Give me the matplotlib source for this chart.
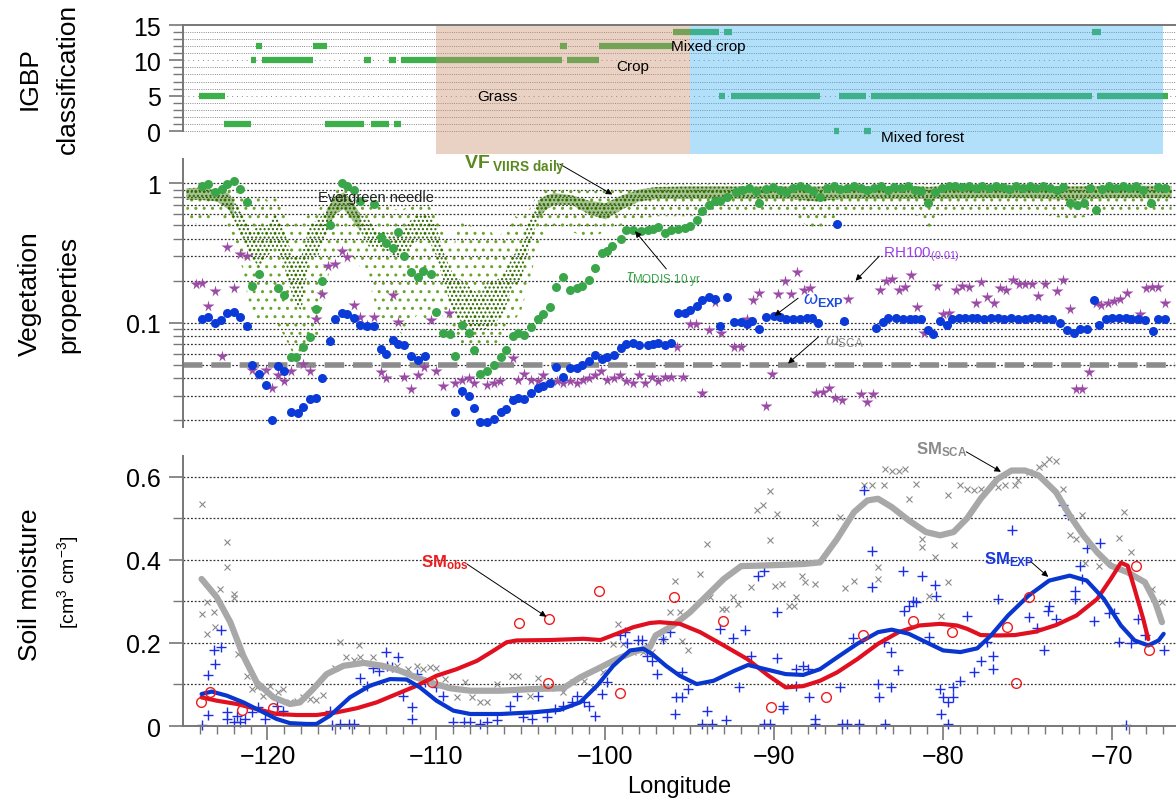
import matplotlib
matplotlib.use("Agg")
import matplotlib.pyplot as plt
from matplotlib.ticker import FixedLocator, NullFormatter

plt.rcParams['font.family'] = ['Liberation Sans', 'DejaVu Sans']
plt.rcParams['mathtext.fontset'] = 'custom'
plt.rcParams['mathtext.rm'] = 'Liberation Sans'
plt.rcParams['mathtext.it'] = 'Liberation Sans:italic'
plt.rcParams['mathtext.bf'] = 'Liberation Sans:bold'
plt.rcParams['hatch.linewidth'] = 1.0

# ---------------- IGBP classes along the transect ----------------
igbp_class = [14, 14, 14, 12, 12, 12, 12, 10, 10, 10, 10, 10, 10,
              5, 5, 5, 5, 5, 5, 1, 1, 1, 1, 0, 0]
igbp_start = [-96.0, -93.0, -71.2, -120.7, -117.3, -102.7, -100.4, -121.0, -120.3, -114.3,
              -112.8, -112.1, -102.3, -124.05, -93.3, -92.6, -86.2, -84.3, -70.9, -122.6,
              -116.6, -113.9, -112.5, -86.5, -84.7]
igbp_end = [-93.3, -92.5, -70.7, -120.3, -116.5, -102.3, -96.0, -120.7, -117.3, -113.9,
            -112.4, -102.6, -100.4, -122.5, -92.9, -87.3, -84.6, -71.2, -66.7, -121.0,
            -114.3, -112.8, -112.1, -86.2, -84.3]

# ---------------- VIIRS daily VF point cloud (envelopes) ----------------
vf_lon = [-124.8, -124.0, -123.0, -122.3, -122.0, -121.5, -121.0, -120.5, -120.0, -119.5,
          -119.0, -118.5, -118.0, -117.5, -117.0, -116.5, -116.0, -115.5, -115.0, -114.5,
          -114.0, -113.5, -113.0, -112.5, -112.0, -111.5, -111.0, -110.5, -110.0, -109.5,
          -109.0, -108.5, -108.0, -107.5, -107.0, -106.5, -106.0, -105.5, -105.0, -104.5,
          -104.0, -103.5, -103.0, -102.0, -101.0, -100.0, -99.0, -98.0, -97.0, -95.0,
          -92.0, -89.0, -87.6, -86.0, -83.0, -81.2, -80.9, -80.5, -78.0, -75.0,
          -72.5, -70.0, -67.0, -66.5]
vf_min = [0.55, 0.50, 0.60, 0.45, 0.35, 0.25, 0.12, 0.10, 0.10, 0.10,
          0.08, 0.06, 0.06, 0.08, 0.08, 0.20, 0.30, 0.35, 0.30, 0.25,
          0.20, 0.12, 0.10, 0.10, 0.08, 0.10, 0.12, 0.10, 0.15, 0.10,
          0.08, 0.07, 0.065, 0.065, 0.07, 0.07, 0.08, 0.10, 0.12, 0.20,
          0.35, 0.45, 0.50, 0.45, 0.40, 0.45, 0.50, 0.55, 0.58, 0.58,
          0.60, 0.60, 0.45, 0.60, 0.60, 0.58, 0.40, 0.58, 0.62, 0.62,
          0.55, 0.62, 0.62, 0.62]
vf_max = [0.95, 0.97, 0.95, 0.92, 0.90, 0.80, 0.70, 0.90, 0.75, 0.90,
          0.70, 0.50, 0.55, 0.60, 0.65, 0.75, 0.90, 0.95, 0.85, 0.80,
          0.75, 0.70, 0.70, 0.65, 0.65, 0.70, 0.70, 0.70, 0.60, 0.45,
          0.35, 0.60, 0.50, 0.45, 0.50, 0.40, 0.45, 0.60, 0.55, 0.65,
          0.85, 0.90, 0.92, 0.90, 0.88, 0.88, 0.90, 0.95, 0.98, 0.98,
          0.98, 0.98, 0.98, 0.98, 0.98, 0.98, 0.98, 0.98, 0.98, 0.98,
          0.98, 0.98, 0.98, 0.98]
vf_core_lo = [0.76, 0.76, 0.74, 0.65, 0.55, 0.40, 0.30, 0.25, 0.30, 0.35,
              0.25, 0.15, 0.12, 0.30, 0.30, 0.45, 0.60, 0.65, 0.55, 0.45,
              0.35, 0.35, 0.33, 0.30, 0.30, 0.35, 0.40, 0.40, 0.30, 0.18,
              0.12, 0.10, 0.09, 0.09, 0.09, 0.10, 0.12, 0.18, 0.20, 0.35,
              0.55, 0.65, 0.70, 0.70, 0.60, 0.55, 0.65, 0.74, 0.77, 0.77,
              0.77, 0.77, 0.74, 0.77, 0.77, 0.77, 0.72, 0.77, 0.78, 0.78,
              0.76, 0.78, 0.78, 0.78]
vf_core_hi = [0.92, 0.93, 0.90, 0.85, 0.75, 0.60, 0.45, 0.50, 0.50, 0.60,
              0.45, 0.30, 0.30, 0.50, 0.55, 0.65, 0.80, 0.86, 0.75, 0.60,
              0.55, 0.45, 0.45, 0.42, 0.45, 0.55, 0.60, 0.60, 0.50, 0.30,
              0.22, 0.20, 0.18, 0.16, 0.20, 0.20, 0.22, 0.30, 0.35, 0.55,
              0.75, 0.82, 0.85, 0.82, 0.75, 0.72, 0.82, 0.90, 0.94, 0.95,
              0.95, 0.95, 0.95, 0.95, 0.95, 0.95, 0.94, 0.95, 0.96, 0.96,
              0.95, 0.96, 0.96, 0.96]
# where the daily retrievals pile up into a near-solid band
vf_dense = [True, True, True, True, True, False, False, False, False, False,
            False, False, False, False, False, True, True, True, True, True,
            False, False, False, False, False, False, False, False, False, False,
            False, False, False, False, False, False, False, False, False, False,
            True, True, True, True, True, True, True, True, True, True,
            True, True, True, True, True, True, True, True, True, True,
            True, True, True, True]

# ---------------- MODIS 10-yr tau ----------------
tau_lon = [-123.9, -123.5, -123.1, -122.7, -122.4, -122.0, -121.6, -121.2, -120.9, -120.5,
           -119.4, -119.0, -118.6, -118.3, -117.9, -117.5, -117.1, -116.8, -116.3, -115.6,
           -115.3, -114.9, -114.5, -113.7, -113.3, -113.0, -112.6, -112.3, -111.9, -111.5,
           -111.1, -110.8, -110.3, -110.0, -109.6, -109.2, -108.9, -108.5, -108.1, -107.8,
           -107.4, -107.0, -106.6, -106.2, -105.9, -105.5, -105.2, -104.8, -104.4, -104.0,
           -103.7, -103.3, -102.9, -102.5, -102.1, -101.7, -101.4, -101.0, -100.6, -100.2,
           -99.9, -99.6, -99.1, -98.8, -98.4, -97.9, -97.5, -97.2, -96.9, -96.5,
           -96.1, -95.7, -95.3, -95.0, -94.6, -94.3, -93.9, -93.5, -93.2, -92.8,
           -92.3, -91.9, -91.5, -91.1, -90.9, -90.5, -90.1, -89.7, -89.3, -88.9,
           -88.5, -88.1, -87.7, -87.3, -86.9, -86.5, -86.1, -85.7, -85.3, -84.9,
           -84.5, -84.1, -83.7, -83.3, -82.9, -82.5, -82.1, -81.7, -81.3, -80.9,
           -80.5, -80.1, -79.7, -79.3, -78.9, -78.5, -78.1, -77.7, -77.3, -76.9,
           -76.5, -76.1, -75.7, -75.3, -74.9, -74.5, -74.1, -73.7, -73.3, -72.9,
           -72.5, -72.1, -71.7, -71.3, -71.0, -70.6, -70.2, -69.8, -69.4, -69.0,
           -68.6, -68.2, -67.7, -67.3, -66.9]
tau_val = [0.96, 0.99, 0.86, 0.91, 0.98, 1.03, 0.91, 0.73, 0.183, 0.225,
           0.178, 0.159, 0.057, 0.057, 0.067, 0.079, 0.125, 0.199, 0.50, 1.0,
           0.96, 0.89, 0.75, 0.71, 0.41, 0.37, 0.345, 0.45, 0.30, 0.23,
           0.213, 0.235, 0.223, 0.12, 0.085, 0.083, 0.058, 0.096, 0.085, 0.064,
           0.043, 0.045, 0.050, 0.057, 0.064, 0.080, 0.084, 0.082, 0.093, 0.106,
           0.115, 0.129, 0.179, 0.211, 0.173, 0.178, 0.183, 0.204, 0.245, 0.316,
           0.327, 0.353, 0.40, 0.46, 0.465, 0.454, 0.465, 0.472, 0.485, 0.44,
           0.465, 0.472, 0.48, 0.49, 0.547, 0.63, 0.70, 0.75, 0.75, 0.80,
           0.86, 0.90, 0.93, 0.88, 0.72, 0.91, 0.94, 0.90, 0.86, 0.93,
           0.95, 0.92, 0.88, 0.80, 0.93, 0.95, 0.91, 0.93, 0.96, 0.92,
           0.89, 0.93, 0.95, 0.90, 0.94, 0.92, 0.95, 0.90, 0.88, 0.72,
           0.86, 0.93, 0.95, 0.96, 0.94, 0.96, 0.93, 0.95, 0.92, 0.96,
           0.94, 0.91, 0.95, 0.93, 0.96, 0.92, 0.95, 0.93, 0.90, 0.94,
           0.72, 0.70, 0.72, 0.93, 0.64, 0.91, 0.95, 0.93, 0.96, 0.92,
           0.95, 0.90, 0.72, 0.94, 0.92]

# ---------------- omega EXP ----------------
wexp_lon = [-123.86, -123.5, -123.1, -122.75, -122.4, -122.0, -121.6, -121.2, -120.9, -120.5,
            -120.1, -119.75, -119.4, -119.0, -118.6, -118.2, -117.9, -117.5, -117.1, -116.8,
            -116.3, -116.0, -115.6, -115.3, -114.9, -114.5, -114.1, -113.7, -113.3, -113.0,
            -112.6, -112.3, -111.9, -111.5, -111.1, -110.7, -108.9, -108.5, -108.1, -107.8,
            -107.4, -107.0, -106.6, -106.2, -105.9, -105.5, -105.2, -104.8, -104.4, -104.0,
            -103.7, -103.3, -102.9, -102.5, -102.1, -101.7, -101.4, -101.0, -100.6, -100.2,
            -99.9, -99.5, -99.1, -98.8, -98.4, -98.0, -97.5, -97.2, -96.9, -96.5,
            -96.1, -95.7, -95.3, -95.0, -94.6, -94.3, -93.9, -93.5, -93.2, -92.8,
            -92.4, -92.0, -91.6, -91.3, -90.9, -90.5, -90.0, -89.7, -89.3, -88.9,
            -88.5, -88.1, -87.8, -87.4, -86.3, -85.9, -84.0, -83.6, -83.3, -82.8,
            -82.4, -82.0, -81.7, -81.3, -80.9, -80.6, -80.2, -79.8, -79.5, -79.1,
            -78.7, -78.3, -78.0, -77.6, -77.2, -76.8, -76.4, -76.0, -75.6, -75.2,
            -74.8, -74.4, -74.0, -73.6, -73.1, -72.7, -72.3, -71.9, -71.5, -71.1,
            -70.8, -70.4, -70.0, -69.6, -69.2, -68.9, -68.5, -68.1, -67.6, -67.3,
            -66.9]
wexp_val = [0.107, 0.110, 0.100, 0.104, 0.117, 0.119, 0.110, 0.095, 0.050, 0.043,
            0.036, 0.020, 0.049, 0.045, 0.023, 0.0226, 0.025, 0.0283, 0.0288, 0.040,
            0.074, 0.106, 0.117, 0.115, 0.109, 0.096, 0.095, 0.094, 0.065, 0.060,
            0.075, 0.070, 0.069, 0.058, 0.054, 0.058, 0.023, 0.0325, 0.030, 0.0245,
            0.0193, 0.0196, 0.0205, 0.0228, 0.0242, 0.028, 0.029, 0.0285, 0.0313, 0.034,
            0.0355, 0.0373, 0.0485, 0.041, 0.047, 0.047, 0.050, 0.053, 0.0588, 0.055,
            0.057, 0.059, 0.066, 0.070, 0.071, 0.069, 0.069, 0.070, 0.072, 0.069,
            0.072, 0.117, 0.118, 0.123, 0.132, 0.145, 0.152, 0.147, 0.094, 0.152,
            0.102, 0.102, 0.098, 0.103, 0.090, 0.110, 0.111, 0.110, 0.106, 0.107,
            0.107, 0.108, 0.108, 0.099, 0.51, 0.103, 0.092, 0.102, 0.108, 0.108,
            0.107, 0.107, 0.107, 0.107, 0.088, 0.083, 0.103, 0.096, 0.106, 0.108,
            0.108, 0.108, 0.108, 0.107, 0.108, 0.108, 0.107, 0.108, 0.106, 0.107,
            0.108, 0.108, 0.107, 0.107, 0.099, 0.088, 0.084, 0.090, 0.090, 0.145,
            0.097, 0.107, 0.108, 0.108, 0.108, 0.107, 0.106, 0.105, 0.087, 0.106,
            0.106]

# ---------------- RH100 (x0.01) ----------------
rh_lon = [-124.23, -123.9, -123.5, -123.1, -122.7, -122.4, -122.0, -121.6, -121.2, -120.9,
          -120.5, -120.1, -119.75, -119.4, -119.0, -118.6, -117.9, -117.5, -117.13, -116.8,
          -116.4, -116.0, -115.6, -115.3, -114.9, -114.5, -114.13, -113.7, -113.3, -113.0,
          -112.6, -112.3, -111.9, -111.5, -111.1, -110.74, -110.35, -110.0, -109.6, -109.24,
          -108.9, -108.5, -108.1, -107.76, -107.0, -106.6, -106.24, -105.5, -105.2, -104.8,
          -104.4, -104.0, -103.7, -103.3, -102.85, -102.5, -102.1, -101.7, -101.35, -100.96,
          -100.6, -100.27, -99.89, -99.5, -99.15, -98.77, -98.36, -98.02, -97.64, -97.24,
          -96.9, -96.5, -96.1, -95.78, -95.4, -94.99, -94.65, -94.27, -93.86, -93.5,
          -93.14, -92.4, -92.0, -91.6, -91.28, -90.9, -90.5, -90.15, -89.77, -89.36,
          -89.0, -88.65, -88.24, -87.9, -87.57, -87.12, -86.78, -86.4, -86.0, -85.65,
          -84.87, -84.53, -84.15, -83.74, -83.4, -83.02, -82.66, -82.28, -81.9, -81.54,
          -81.15, -80.37, -80.03, -79.65, -79.24, -78.9, -78.5, -78.1, -77.78, -77.4,
          -77.0, -76.66, -76.27, -75.9, -75.53, -75.15, -74.74, -74.41, -74.0, -73.28,
          -72.9, -72.5, -72.16, -71.78, -71.37, -71.0, -70.65, -70.29, -69.91, -69.53,
          -69.12, -68.78, -68.38, -68.0, -67.66, -67.28, -66.9]
rh_val = [0.191, 0.194, 0.132, 0.169, 0.058, 0.349, 0.178, 0.313, 0.300, 0.046,
          0.042, 0.046, 0.034, 0.042, 0.038, 0.045, 0.051, 0.045, 0.106, 0.162,
          0.255, 0.262, 0.327, 0.296, 0.134, 0.110, 0.096, 0.110, 0.044, 0.040,
          0.157, 0.102, 0.041, 0.0336, 0.042, 0.0485, 0.104, 0.045, 0.0355, 0.118,
          0.037, 0.039, 0.040, 0.037, 0.036, 0.037, 0.038, 0.0556, 0.039, 0.043,
          0.039, 0.038, 0.042, 0.037, 0.038, 0.037, 0.038, 0.037, 0.039, 0.040,
          0.042, 0.045, 0.039, 0.040, 0.042, 0.038, 0.037, 0.042, 0.037, 0.041,
          0.038, 0.041, 0.041, 0.067, 0.041, 0.098, 0.098, 0.0316, 0.088, 0.141,
          0.085, 0.067, 0.067, 0.107, 0.145, 0.164, 0.0253, 0.043, 0.160, 0.200,
          0.160, 0.232, 0.173, 0.176, 0.0316, 0.032, 0.034, 0.029, 0.028, 0.148,
          0.031, 0.027, 0.031, 0.171, 0.200, 0.205, 0.171, 0.180, 0.219, 0.130,
          0.084, 0.184, 0.116, 0.118, 0.173, 0.183, 0.180, 0.139, 0.196, 0.153,
          0.138, 0.178, 0.171, 0.204, 0.188, 0.188, 0.191, 0.155, 0.188, 0.169,
          0.204, 0.125, 0.0335, 0.0335, 0.044, 0.138, 0.134, 0.138, 0.143, 0.149,
          0.164, 0.106, 0.116, 0.176, 0.179, 0.179, 0.138]

wsca_lon = [-125.0, -66.3]
wsca_val = [0.05, 0.05]

# ---------------- Soil moisture curves ----------------
sca_lon = [-123.9, -123.0, -122.2, -121.43, -120.64, -119.65, -118.67, -118.08, -117.3, -116.5,
           -115.5, -114.3, -113.2, -112.16, -111.2, -110.2, -109.2, -108.0, -106.2, -104.3,
           -102.5, -101.5, -100.5, -99.34, -98.35, -97.37, -97.03, -96.0, -95.0, -94.0,
           -93.0, -91.97, -90.96, -89.54, -88.3, -87.3, -86.3, -85.29, -84.5, -83.87,
           -83.06, -82.05, -81.04, -80.2, -79.4, -78.6, -77.8, -76.79, -75.97, -75.17,
           -74.36, -73.34, -72.53, -71.72, -70.9, -70.1, -69.1, -68.08, -67.47, -67.07]
sca_val = [0.354, 0.31, 0.25, 0.169, 0.105, 0.069, 0.053, 0.057, 0.089, 0.125,
           0.145, 0.152, 0.145, 0.133, 0.117, 0.103, 0.091, 0.085, 0.085, 0.089,
           0.091, 0.117, 0.137, 0.161, 0.178, 0.19, 0.218, 0.242, 0.274, 0.314,
           0.354, 0.385, 0.386, 0.388, 0.39, 0.394, 0.45, 0.515, 0.543, 0.547,
           0.527, 0.495, 0.467, 0.459, 0.467, 0.5, 0.547, 0.595, 0.615, 0.615,
           0.603, 0.563, 0.507, 0.459, 0.418, 0.386, 0.37, 0.346, 0.298, 0.25]

obs_lon = [-123.9, -123.0, -121.8, -120.64, -119.46, -118.27, -117.1, -115.9, -114.7, -113.54,
           -112.36, -111.17, -110.0, -108.8, -107.6, -106.6, -105.85, -105.26, -103.3, -101.3,
           -100.3, -99.34, -98.35, -97.37, -96.8, -95.6, -94.4, -93.0, -91.6, -90.35,
           -89.34, -88.3, -87.3, -86.3, -85.1, -83.87, -82.65, -81.44, -80.2, -79.2,
           -78.6, -77.8, -76.79, -75.77, -74.56, -73.34, -72.13, -70.9, -70.1, -69.5,
           -69.1, -68.69, -68.18, -67.88]
obs_val = [0.069, 0.061, 0.053, 0.041, 0.029, 0.0265, 0.0265, 0.033, 0.043, 0.057,
           0.077, 0.097, 0.121, 0.137, 0.157, 0.182, 0.2016, 0.206, 0.207, 0.21,
           0.207, 0.222, 0.238, 0.248, 0.25, 0.246, 0.226, 0.194, 0.161, 0.121,
           0.093, 0.096, 0.109, 0.129, 0.161, 0.198, 0.226, 0.242, 0.246, 0.242,
           0.234, 0.219, 0.218, 0.219, 0.227, 0.243, 0.266, 0.306, 0.354, 0.393,
           0.386, 0.33, 0.258, 0.209]

exp_lon = [-123.9, -123.3, -122.4, -121.43, -120.44, -119.46, -118.67, -117.7, -117.1, -116.3,
           -115.12, -113.94, -112.75, -111.77, -110.98, -110.0, -109.0, -108.0, -106.2, -104.27,
           -102.7, -101.5, -100.5, -99.54, -98.55, -97.76, -97.23, -96.42, -95.6, -94.6,
           -93.6, -92.37, -91.56, -90.55, -89.34, -88.3, -87.3, -86.3, -85.1, -83.87,
           -83.06, -82.05, -81.04, -80.02, -79.0, -78.0, -77.19, -76.18, -74.96, -73.75,
           -72.53, -71.52, -70.51, -69.5, -68.69, -67.88, -67.27, -66.97]
exp_val = [0.077, 0.083, 0.073, 0.057, 0.037, 0.017, 0.007, 0.005, 0.005, 0.025,
           0.069, 0.097, 0.113, 0.112, 0.093, 0.061, 0.037, 0.029, 0.029, 0.033,
           0.039, 0.057, 0.097, 0.145, 0.182, 0.186, 0.173, 0.145, 0.121, 0.101,
           0.109, 0.133, 0.147, 0.137, 0.125, 0.123, 0.137, 0.165, 0.198, 0.226,
           0.232, 0.222, 0.202, 0.182, 0.178, 0.187, 0.218, 0.266, 0.314, 0.35,
           0.362, 0.35, 0.306, 0.242, 0.206, 0.194, 0.206, 0.222]

# in-situ observations (open circles)
obs_pt_lon = [-123.95, -123.4, -121.53, -119.7, -110.28, -105.1, -103.34, -103.4, -100.36, -99.15,
              -95.96, -93.04, -90.2, -86.95, -84.78, -81.8, -79.5, -76.24, -75.71, -74.96,
              -68.63, -67.82]
obs_pt_val = [0.059, 0.081, 0.039, 0.043, 0.105, 0.248, 0.258, 0.103, 0.325, 0.08,
              0.31, 0.254, 0.047, 0.071, 0.218, 0.254, 0.226, 0.239, 0.104, 0.31,
              0.385, 0.183]

# SCA retrievals (x)
scax_lon = [-123.9, -123.9, -123.56, -123.56, -123.17, -123.1, -122.8, -122.4, -122.4, -122.0,
            -122.0, -121.73, -121.23, -120.94, -120.6, -120.25, -119.85, -119.36, -119.06, -118.67,
            -118.27, -117.88, -117.48, -117.1, -116.74, -116.0, -115.7, -115.35, -114.88, -114.57,
            -114.53, -113.78, -113.34, -113.05, -112.36, -111.67, -111.17, -110.78, -110.38, -110.0,
            -109.5, -108.8, -108.3, -107.92, -107.43, -107.03, -106.44, -105.55, -105.16, -104.47,
            -103.98, -103.68, -103.28, -102.5, -101.9, -101.3, -100.72, -100.13, -99.54, -99.24,
            -98.94, -98.35, -97.76, -97.23, -96.62, -96.2, -95.9, -95.6, -95.5, -95.1,
            -94.4, -94.0, -93.79, -93.08, -92.88, -92.47, -92.17, -91.36, -91.06, -90.65,
            -90.25, -90.25, -89.84, -89.94, -89.54, -89.13, -88.83, -88.7, -88.36, -88.2,
            -87.6, -87.6, -86.1, -85.8, -85.29, -84.68, -84.2, -83.87, -83.87, -83.5,
            -83.47, -83.06, -82.66, -82.25, -82.05, -81.64, -81.28, -81.28, -80.83, -80.53,
            -80.13, -79.76, -79.72, -79.38, -79.0, -78.6, -78.2, -77.8, -76.79, -76.38,
            -75.77, -75.57, -74.96, -74.36, -74.05, -73.75, -73.34, -72.94, -72.53, -72.13,
            -71.83, -71.62, -70.81, -69.6, -69.3, -68.89, -67.68, -67.07]
scax_val = [0.535, 0.27, 0.298, 0.222, 0.274, 0.238, 0.33, 0.444, 0.382, 0.318,
            0.308, 0.173, 0.12, 0.088, 0.093, 0.073, 0.097, 0.081, 0.089, 0.057,
            0.061, 0.069, 0.065, 0.063, 0.075, 0.139, 0.2016, 0.165, 0.16, 0.194,
            0.165, 0.165, 0.145, 0.144, 0.145, 0.137, 0.145, 0.137, 0.141, 0.139,
            0.113, 0.069, 0.105, 0.069, 0.057, 0.057, 0.101, 0.121, 0.121, 0.073,
            0.115, 0.093, 0.091, 0.083, 0.105, 0.109, 0.093, 0.129, 0.198, 0.246,
            0.198, 0.178, 0.178, 0.178, 0.21, 0.274, 0.35, 0.274, 0.205, 0.182,
            0.366, 0.439, 0.31, 0.282, 0.282, 0.31, 0.294, 0.334, 0.519, 0.531,
            0.565, 0.447, 0.511, 0.338, 0.342, 0.29, 0.29, 0.31, 0.362, 0.346,
            0.342, 0.489, 0.503, 0.332, 0.35, 0.579, 0.579, 0.382, 0.354, 0.579,
            0.619, 0.615, 0.615, 0.619, 0.547, 0.583, 0.45, 0.43, 0.312, 0.406,
            0.266, 0.555, 0.346, 0.436, 0.579, 0.571, 0.567, 0.571, 0.575, 0.579,
            0.579, 0.591, 0.611, 0.623, 0.631, 0.643, 0.639, 0.571, 0.459, 0.45,
            0.507, 0.393, 0.386, 0.452, 0.515, 0.418, 0.33, 0.298]

# EXP retrievals (+)
expp_lon = [-123.9, -123.5, -123.5, -123.15, -123.1, -122.77, -122.77, -122.4, -122.38, -122.0,
            -121.8, -121.6, -121.33, -120.94, -120.54, -120.15, -119.46, -119.06, -116.3, -116.2,
            -115.7, -115.2, -114.88, -114.53, -114.13, -113.78, -113.38, -113.0, -112.95, -112.65,
            -112.26, -111.96, -111.47, -111.47, -111.17, -110.68, -110.0, -109.6, -109.0, -108.4,
            -108.0, -107.43, -107.03, -106.44, -105.65, -105.26, -104.86, -104.37, -103.98, -103.48,
            -102.99, -102.5, -102.0, -101.7, -101.3, -101.0, -100.62, -100.23, -99.93, -99.14,
            -98.84, -98.75, -98.06, -97.56, -97.84, -97.63, -97.23, -96.93, -96.62, -96.2,
            -95.9, -95.85, -95.5, -95.5, -95.1, -94.3, -94.0, -93.69, -93.24, -92.88,
            -92.47, -92.07, -91.72, -91.36, -91.0, -90.59, -90.59, -90.29, -89.84, -89.84,
            -89.5, -89.5, -88.73, -88.73, -88.3, -88.0, -87.98, -87.6, -87.6, -86.1,
            -86.0, -85.73, -85.33, -85.0, -84.68, -84.23, -84.23, -83.87, -83.83, -83.5,
            -83.47, -83.1, -83.1, -82.7, -82.39, -82.35, -82.05, -81.78, -81.64, -81.28,
            -80.87, -80.53, -80.47, -80.23, -80.13, -80.02, -79.76, -79.72, -79.42, -79.42,
            -79.0, -78.6, -78.2, -77.8, -77.45, -77.09, -77.09, -76.79, -75.97, -74.96,
            -74.46, -74.05, -73.79, -73.75, -73.34, -72.94, -72.63, -72.23, -72.23, -71.93,
            -71.83, -71.52, -71.12, -70.71, -70.21, -69.9, -69.6, -69.19, -68.89, -68.48,
            -68.08, -66.97]
expp_val = [0.002, 0.027, 0.123, 0.182, 0.149, 0.232, 0.19, 0.033, 0.018, 0.01,
            0.025, 0.009, 0.018, 0.033, 0.047, 0.017, 0.049, 0.037, 0.037, 0.002,
            0.005, 0.005, 0.005, 0.115, 0.097, 0.139, 0.133, 0.178, 0.145, 0.141,
            0.165, 0.073, 0.045, 0.018, 0.125, 0.105, 0.093, 0.073, 0.01, 0.009,
            0.009, 0.005, 0.009, 0.015, 0.049, 0.073, 0.021, 0.017, 0.073, 0.021,
            0.041, 0.049, 0.057, 0.073, 0.057, 0.049, 0.025, 0.077, 0.105, 0.218,
            0.227, 0.2, 0.206, 0.169, 0.206, 0.187, 0.157, 0.125, 0.21, 0.227,
            0.029, 0.071, 0.069, 0.129, 0.089, 0.005, 0.035, 0.005, 0.234, 0.015,
            0.211, 0.093, 0.23, 0.169, 0.362, 0.374, 0.005, 0.005, 0.274, 0.163,
            0.049, 0.041, 0.137, 0.097, 0.145, 0.137, 0.069, 0.017, 0.005, 0.093,
            0.005, 0.005, 0.211, 0.005, 0.569, 0.422, 0.334, 0.101, 0.071, 0.202,
            0.005, 0.178, 0.093, 0.136, 0.374, 0.278, 0.29, 0.3, 0.298, 0.361,
            0.214, 0.34, 0.314, 0.089, 0.029, 0.069, 0.057, 0.005, 0.093, 0.069,
            0.109, 0.266, 0.131, 0.157, 0.202, 0.137, 0.168, 0.306, 0.473, 0.262,
            0.235, 0.182, 0.276, 0.29, 0.258, 0.531, 0.507, 0.306, 0.324, 0.386,
            0.354, 0.428, 0.254, 0.441, 0.272, 0.272, 0.203, 0.002, 0.2, 0.258,
            0.219, 0.182]

XLIM = (-125.0, -66.24)
GRID_LS = (0, (1.5, 1.5))
AX_GRAY = '#777777'


def style_left(ax):
    for s in ['top', 'right', 'bottom']:
        ax.spines[s].set_visible(False)
    ax.spines['left'].set_color(AX_GRAY)
    ax.spines['left'].set_linewidth(1.4)
    ax.spines['left'].set_zorder(6)
    ax.tick_params(axis='y', which='major', length=10, width=1.2, color=AX_GRAY,
                   labelsize=18, pad=6)
    ax.tick_params(axis='y', which='minor', length=7, width=1.0, color=AX_GRAY)
    ax.tick_params(axis='x', which='both', bottom=False, labelbottom=False)
    ax.set_xlim(*XLIM)


fig = plt.figure(figsize=(11.76, 8.03), dpi=100)
ax1 = fig.add_axes([0.1556, 0.807, 0.8444, 0.1606])
ax2 = fig.add_axes([0.1556, 0.467, 0.8444, 0.3337])
ax3 = fig.add_axes([0.1556, 0.0946, 0.8444, 0.3363])

# ======================= IGBP panel =======================
style_left(ax1)
ax1.set_ylim(-3.25, 15)
ax1.spines['left'].set_bounds(0, 15)
ax1.spines['top'].set_visible(True)
ax1.spines['top'].set_color(AX_GRAY)
ax1.spines['top'].set_linewidth(1.4)
ax1.spines['top'].set_zorder(6)
ax1.set_yticks([0, 5, 10, 15])
ax1.yaxis.set_minor_locator(FixedLocator(range(0, 15)))
for k in range(15):
    ls = (0, (1, 4)) if k in (5, 10) else (0, (1, 1.3))
    ax1.axhline(k, color='#8a8a8a', lw=0.7, ls=ls, zorder=1)
ax1.hlines(igbp_class, igbp_start, igbp_end, colors='#3db04b', lw=4.5, zorder=2,
           capstyle='butt')
ax1.axvspan(-110, -95, color='#c8906a', alpha=0.4, lw=0, zorder=3)
ax1.axvspan(-95, -67, color='#40b0f0', alpha=0.4, lw=0, zorder=3)
ax1.text(-106.4, 5, 'Grass', fontsize=11, ha='center', va='center', zorder=4)
ax1.text(-98.4, 9.2, 'Crop', fontsize=11, ha='center', va='center', zorder=4)
ax1.text(-96.1, 12.1, 'Mixed crop', fontsize=11, ha='left', va='center', zorder=4)
ax1.text(-83.7, -0.9, 'Mixed forest', fontsize=11, ha='left', va='center', zorder=4)

# ======================= Vegetation panel =======================
style_left(ax2)
ax2.set_yscale('log')
ax2.set_ylim(0.0179, 1.49)
ax2.set_yticks([0.1, 1])
ax2.set_yticklabels(['0.1', '1'])
veg_minor = [0.02, 0.03, 0.04, 0.05, 0.06, 0.07, 0.08, 0.09,
             0.2, 0.3, 0.4, 0.5, 0.6, 0.7, 0.8, 0.9]
ax2.yaxis.set_minor_locator(FixedLocator(veg_minor))
ax2.yaxis.set_minor_formatter(NullFormatter())
for v in veg_minor + [0.1, 1.0]:
    ax2.axhline(v, color='#333333', lw=0.9, ls=GRID_LS, zorder=1)

# VIIRS daily cloud: sparse envelope + dotted core + solid where dense
ax2.fill_between(vf_lon, vf_min, vf_max, facecolor='none', edgecolor='#6aa52a',
                 hatch='..', lw=0, zorder=2)
ax2.fill_between(vf_lon, vf_core_lo, vf_core_hi, where=vf_dense, facecolor='#3a7a0c',
                 alpha=0.45, lw=0, zorder=2)
ax2.fill_between(vf_lon, vf_core_lo, vf_core_hi, facecolor='none', edgecolor='#2c6600',
                 hatch='....', lw=0, zorder=2)
ax2.plot(wsca_lon, wsca_val, color='#8c8c8c', lw=4, ls=(0, (3.5, 1.6)), zorder=3)
ax2.plot(tau_lon, tau_val, 'o', color='#3aa64a', ms=6.5, mec='none', zorder=4)
ax2.plot(rh_lon, rh_val, '*', color='#9b4aa6', ms=8.5, mec='none', zorder=4)
ax2.plot(wexp_lon, wexp_val, 'o', color='#0a3ad8', ms=6.5, mec='none', zorder=5)

arrow = dict(arrowstyle='-|>', color='k', lw=0.7, mutation_scale=9, shrinkA=0, shrinkB=0)
ax2.annotate('', xy=(-99.6, 0.83), xytext=(-102.7, 1.37), arrowprops=arrow,
             annotation_clip=False, zorder=7)
ax2.text(-108.4, 1.37, r'$\mathbf{VF}_{\ \mathbf{VIIRS\ daily}}$', color='#5a8a1e',
         fontsize=14, ha='left', va='center', zorder=7)
ax2.text(-117.0, 0.79, 'Evergreen needle', fontsize=10.5, color='#222222',
         ha='left', va='center', zorder=7)
ax2.annotate('', xy=(-98.25, 0.453), xytext=(-96.4, 0.243), arrowprops=arrow, zorder=7)
ax2.text(-98.8, 0.205, r'$\tau_{\mathrm{MODIS\ 10\ yr}}$', color='#3aa64a',
         fontsize=12, ha='left', va='center', zorder=7)
ax2.annotate('', xy=(-85.2, 0.20), xytext=(-83.8, 0.30), arrowprops=arrow, zorder=7)
ax2.text(-83.6, 0.31, r'RH100$_{\mathrm{(0.01)}}$', color='#a040e8',
         fontsize=11, ha='left', va='center', zorder=7)
ax2.annotate('', xy=(-90.0, 0.112), xytext=(-88.6, 0.15), arrowprops=arrow, zorder=7)
ax2.text(-88.3, 0.148, r'$\omega_{\mathbf{EXP}}$', color='#1a4ae0',
         fontsize=13, ha='left', va='center', zorder=7)
ax2.annotate('', xy=(-89.2, 0.051), xytext=(-87.4, 0.079), arrowprops=arrow, zorder=7)
ax2.text(-87.0, 0.074, r'$\omega_{\mathrm{SCA}}$', color='#8c8c8c',
         fontsize=12, ha='left', va='center', zorder=7)

# ======================= Soil moisture panel =======================
style_left(ax3)
ax3.spines['bottom'].set_visible(True)
ax3.spines['bottom'].set_color(AX_GRAY)
ax3.spines['bottom'].set_linewidth(1.4)
ax3.set_ylim(0, 0.65)
ax3.set_yticks([0, 0.2, 0.4, 0.6])
ax3.set_yticklabels(['0', '0.2', '0.4', '0.6'])
ax3.yaxis.set_minor_locator(FixedLocator([0.1, 0.3, 0.5]))
for v in [0.1, 0.2, 0.3, 0.4, 0.5, 0.6]:
    ax3.axhline(v, color='#333333', lw=0.9, ls=GRID_LS, zorder=1)
ax3.set_xticks([-120, -110, -100, -90, -80, -70])
ax3.xaxis.set_minor_locator(FixedLocator(range(-124, -66)))
ax3.tick_params(axis='x', which='major', bottom=True, labelbottom=True, length=10,
                width=1.2, color=AX_GRAY, labelsize=18, pad=3)
ax3.tick_params(axis='x', which='minor', bottom=True, length=6, width=1.0, color=AX_GRAY)
ax3.set_xlabel('Longitude', fontsize=17, labelpad=5)

ax3.plot(scax_lon, scax_val, 'x', color='#8a8a8a', ms=4.5, mew=0.8, zorder=2, clip_on=False)
ax3.plot(expp_lon, expp_val, '+', color='#1a2ee8', ms=7, mew=1.0, zorder=2, clip_on=False)
ax3.plot(sca_lon, sca_val, color='#a8a8a8', lw=4.5, zorder=3, solid_capstyle='round')
ax3.plot(obs_lon, obs_val, color='#e01020', lw=3, zorder=4, solid_capstyle='round')
ax3.plot(exp_lon, exp_val, color='#0a36d0', lw=3, zorder=5, solid_capstyle='round')
ax3.plot(obs_pt_lon, obs_pt_val, 'o', mfc='none', mec='#ee1c1c', ms=7, mew=1.0, zorder=6)

ax3.annotate('', xy=(-103.5, 0.263), xytext=(-108.2, 0.39), arrowprops=arrow, zorder=7)
ax3.text(-110.9, 0.395, r'$\mathbf{SM}_{\mathbf{obs}}$', color='#ee1c1c',
         fontsize=12, ha='left', va='center', zorder=7)
ax3.annotate('', xy=(-76.6, 0.612), xytext=(-78.65, 0.66), arrowprops=arrow,
             annotation_clip=False, zorder=7)
ax3.text(-81.6, 0.667, r'$\mathbf{SM}_{\mathbf{SCA}}$', color='#8a8a8a',
         fontsize=12, ha='left', va='center', zorder=7, clip_on=False)
ax3.annotate('', xy=(-73.8, 0.359), xytext=(-74.9, 0.398), arrowprops=arrow, zorder=7)
ax3.text(-77.6, 0.402, r'$\mathbf{SM}_{\mathbf{EXP}}$', color='#1a3ae0',
         fontsize=12, ha='left', va='center', zorder=7)

# ======================= panel labels =======================
fig.text(30 / 1176, 1 - 79 / 803, 'IGBP', rotation=90, fontsize=19, ha='center', va='center')
fig.text(68 / 1176, 1 - 79 / 803, 'classification', rotation=90, fontsize=19,
         ha='center', va='center')
fig.text(30 / 1176, 1 - 294 / 803, 'Vegetation', rotation=90, fontsize=19,
         ha='center', va='center')
fig.text(68 / 1176, 1 - 294 / 803, 'properties', rotation=90, fontsize=19,
         ha='center', va='center')
fig.text(30 / 1176, 1 - 585 / 803, 'Soil moisture', rotation=90, fontsize=19,
         ha='center', va='center')
fig.text(68 / 1176, 1 - 582 / 803, r'[cm$^3$ cm$^{-3}$]', rotation=90, fontsize=14,
         ha='center', va='center')

fig.savefig('out.png', dpi=100)
